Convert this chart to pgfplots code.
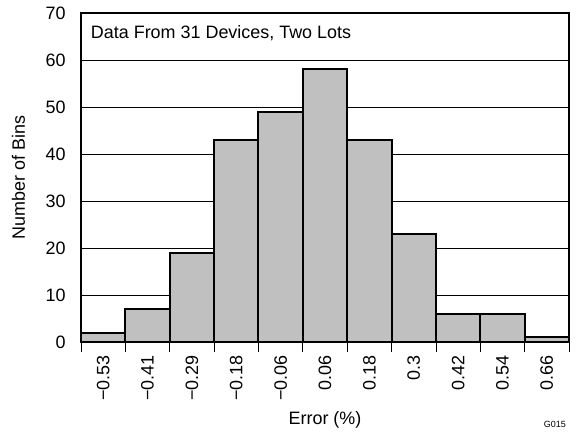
\documentclass[border=0pt]{standalone}
\usepackage{pgfplots}
\pgfplotsset{compat=1.18}
\usepackage{fontspec}
\setmainfont{Liberation Sans}
\definecolor{barfill}{RGB}{192,192,192}
\begin{document}
\begin{tikzpicture}
\begin{axis}[
    scale only axis,
    width=488bp, height=329bp,
    xmin=-0.5, xmax=10.5,
    ymin=0, ymax=70,
    clip=false,
    axis line style={line width=2bp},
    /pgf/number format/assume math mode=true,
    font=\fontsize{18}{21}\selectfont,
    tick label style={font=\fontsize{18}{21}\selectfont},
    label style={font=\fontsize{18}{21}\selectfont},
    xtick={0,...,10},
    xticklabels={−0.53,−0.41,−0.29,−0.18,−0.06,0.06,0.18,0.3,0.42,0.54,0.66},
    x tick label style={rotate=90, anchor=east, xshift=-10bp},
    minor xtick={-0.5,0.5,...,10.5},
    tick align=outside,
    major tick length=0pt,
    minor tick length=10bp,
    minor x tick style={line width=0.8bp, black},
    major tick style={draw=none},
    xtick pos=bottom,
    ytick={0,10,...,70},
    yticklabel style={xshift=-12bp},
    ymajorgrids,
    grid style={line width=0.7bp, black},
    xlabel={Error (\%)},
    ylabel={Number of Bins},
    xlabel style={at={(axis description cs:0.5,-0.237)}, anchor=center},
    ylabel style={at={(axis description cs:-0.128,0.5)}, anchor=center},
]
\addplot[ybar, bar width=1, bar shift=0pt, fill=barfill, draw=black, line width=2bp]
    coordinates {(0,2) (1,7) (2,19) (3,43) (4,49) (5,58) (6,43) (7,23) (8,6) (9,6) (10,1)};
\node[anchor=west, inner sep=0pt, font=\fontsize{18}{21}\selectfont] at (axis description cs:0.02,0.939) {Data From 31 Devices, Two Lots};
\node[font=\fontsize{9}{10}\selectfont] at (axis description cs:0.971,-0.252) {G015};
\path[draw=none] (axis description cs:-0.166,-0.2796) rectangle (axis description cs:1.0287,1.0395);
\end{axis}
\end{tikzpicture}
\end{document}
